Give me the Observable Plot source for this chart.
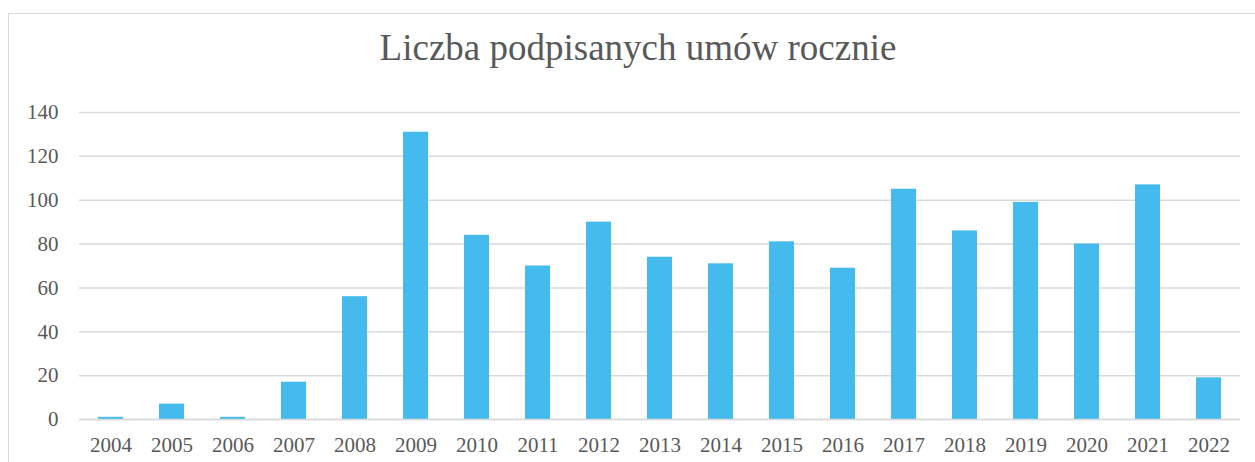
<!DOCTYPE html>
<html>
<head>
<meta charset="utf-8">
<script src="https://cdn.jsdelivr.net/npm/d3@7"></script>
<script src="https://cdn.jsdelivr.net/npm/@observablehq/plot@0.6"></script>
<style>
  html, body { margin: 0; padding: 0; background: #fff; }
  #wrap { position: relative; width: 1255px; height: 462px; overflow: hidden; background: #fff; }
  #frame { position: absolute; left: 8px; top: 13px; width: 1300px; height: 500px; border: 1.5px solid #d9d9d9; box-sizing: border-box; }
  #title { position: absolute; left: 8px; width: 1260px; top: 24px; text-align: center;
           font-family: "Liberation Serif", Tinos, "Times New Roman", "DejaVu Serif", serif; font-size: 37px; color: #595959; line-height: 48px; }
  #chart { position: absolute; left: 0; top: 90px; }
  #chart svg, #chart svg text { font-family: "Liberation Serif", Tinos, "Times New Roman", "DejaVu Serif", serif !important; }
</style>
</head>
<body>
<div id="wrap">
  <div id="frame"></div>
  <div id="title">Liczba podpisanych umów rocznie</div>
  <div id="chart"></div>
</div>
<script>
const years = ["2004","2005","2006","2007","2008","2009","2010","2011","2012","2013","2014","2015","2016","2017","2018","2019","2020","2021","2022"];
const counts = [1, 7, 1, 17, 56, 131, 84, 70, 90, 74, 71, 81, 69, 105, 86, 99, 80, 107, 19];
const yTicks = [0, 20, 40, 60, 80, 100, 120, 140];

const data = years.map((y, i) => ({year: y, count: counts[i]}));

const chart = Plot.plot({
  width: 1255,
  height: 372,
  marginTop: 22,
  marginBottom: 43,
  marginLeft: 79,
  marginRight: 15,
  style: {fontFamily: "'Liberation Serif', Tinos, 'Times New Roman', serif", fontSize: "21px", color: "#595959", background: "transparent"},
  x: {domain: years, paddingInner: 0.59, paddingOuter: 0.295, label: null},
  y: {domain: [0, 140], ticks: yTicks, label: null},
  marks: [
    Plot.gridY(yTicks, {stroke: "#d9d9d9", strokeOpacity: 1, strokeWidth: 1.5}),
    Plot.barY(data, {x: "year", y: "count", fill: "#44bbec"}),
    Plot.ruleY([0], {stroke: "#d9d9d9", strokeWidth: 1.5}),
    Plot.axisX({tickSize: 0, tickPadding: 18, fill: "#595959", fontSize: 21}),
    Plot.axisY({ticks: yTicks, tickSize: 0, tickPadding: 21, fill: "#595959", fontSize: 21})
  ]
});
document.getElementById("chart").appendChild(chart);
</script>
</body>
</html>
